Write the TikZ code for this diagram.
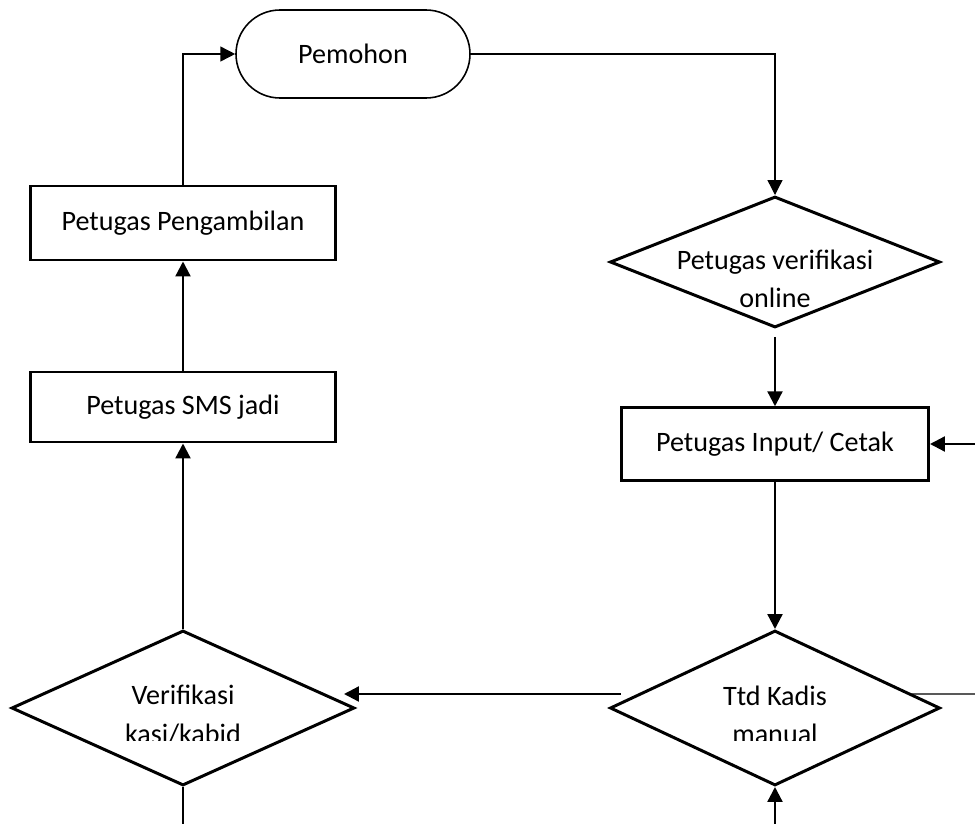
\documentclass[tikz,border=0pt]{standalone}
\usepackage{fontspec}
\setmainfont{Carlito}
\usepackage{tikz}
\usetikzlibrary{shapes, arrows.meta, calc, positioning}
\tikzstyle{process} = [rectangle, draw, line width=1.7pt, fill=white,
    text centered, minimum width=6.1cm, minimum height=1.45cm]
\tikzstyle{decision} = [diamond, draw, line width=1.7pt, inner sep=0pt,
    minimum width=6.6cm, minimum height=3.1cm]
\tikzstyle{terminal} = [rectangle, rounded corners=0.88cm, draw, line width=0.9pt,
    minimum width=4.68cm, minimum height=1.76cm]
\tikzstyle{line} = [draw, line width=1.3pt, -{Triangle[length=8.5pt,width=8.5pt]}]
\tikzstyle{thinline} = [draw, line width=0.75pt]

\begin{document}
\begin{tikzpicture}[node distance = 1.5cm, auto,
    font=\fontsize{16}{22}\selectfont,
    tip/.style={-{Triangle[length=8.5pt,width=8.5pt]}}
    ]
    \useasboundingbox (0,0) rectangle (19.5,-16.48);

    \node[terminal] (pemohon) at (7.06,-1.08) {Pemohon};
    \node[decision, minimum height=2.62cm] (online) at (15.5,-5.24) {};
    \node[process, below of=online, node distance=3.64cm, minimum width=6.14cm] (input) {Petugas Input/ Cetak};
    \node[decision, below of=input, node distance=5.28cm] (ttd) {};
    \node[decision, left of=ttd, node distance=11.84cm, minimum width=6.86cm] (verif) {};
    \node[process, above of=verif, node distance=6.02cm, minimum height=1.4cm] (sms) {Petugas SMS jadi};
    \node[process, above of=sms, node distance=3.68cm, minimum height=1.48cm] (ambil) {Petugas Pengambilan};

    \node[align=center, yshift=-0.34cm] (onlineText) at (online.center) {Petugas verifikasi\\online};
    \begin{scope}
        \clip ($(verif.west)+(0,-0.65)$) rectangle ($(ttd.east)+(0,1)$);
        \node[align=center, yshift=-0.14cm] (verifText) at (verif.center) {Verifikasi\\kasi/kabid};
        \node[align=center, yshift=-0.14cm] (ttdText) at (ttd.center) {Ttd Kadis\\manual};
    \end{scope}

    % free ends at the edge of the page
    \coordinate (inputIn) at (19.5,0 |- input.east);
    \coordinate (ttdOut) at (19.5,-13.88);
    \coordinate (ttdIn) at (ttd |- 0,-16.48);
    \coordinate (verifOut) at (verif |- 0,-16.48);

    \draw[thinline, tip] (pemohon.east) -| (online.north);
    \draw[line, shorten <=0.16cm] (online.south) -- (input.north);
    \draw[line] (input) -- (ttd);
    \draw[line] ([shift={(0.24,0.28)}]ttd.west) -- ([shift={(-0.24,0.28)}]verif.east);
    \draw[thinline] ([shift={(-0.6,0.28)}]ttd.east) -- (ttdOut);
    \draw[line] (inputIn) -- (input.east);
    \draw[line] (ttdIn) -- (ttd.south);
    \draw[thinline, line width=1.3pt] (verif.south) -- (verifOut);
    \draw[line] (verif) -- (sms);
    \draw[line] (sms) -- (ambil);
    \draw[thinline, line width=0.9pt, tip] (ambil.north) |- (pemohon.west);
\end{tikzpicture}
\end{document}
